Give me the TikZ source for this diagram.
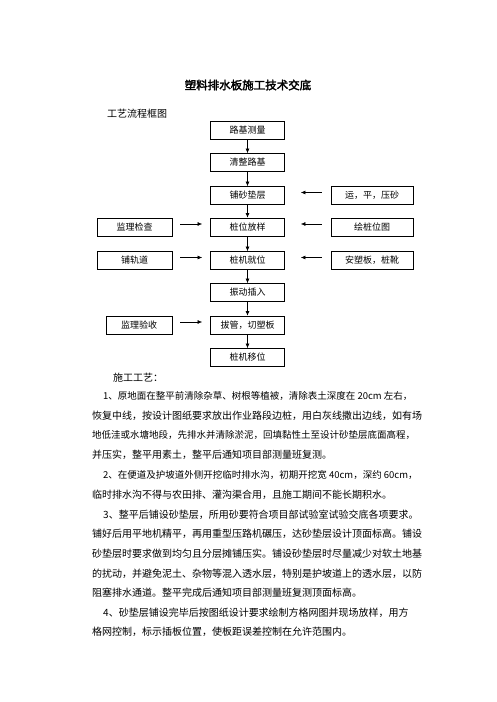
\documentclass[tikz,border=0pt]{standalone}
\usepackage{fontspec}
\setmainfont{Noto Sans CJK SC}[AutoFakeBold=2.5]
\usetikzlibrary{arrows.meta}
\XeTeXlinebreaklocale "zh"
\XeTeXlinebreakskip=0pt plus 10pt minus 0.5pt
\def\midx{247.5}
\colorlet{box edge}{black}
\tikzset{stepbox/.style={draw=box edge, line width=0.7pt, minimum width=74pt,
          minimum height=18pt, inner sep=0pt, font=\fontsize{9}{9}\selectfont},
      sidebox/.style={stepbox, minimum width=82pt},
      flow/.style={-{Latex[length=4.5pt,width=4pt]}, line width=0.6pt},
      bodyline/.style={anchor=west, inner sep=0pt, font=\fontsize{10}{10}\selectfont},
      fullline/.style={bodyline, text width=331pt, align=justify},
      firstline/.style={bodyline, text width=320pt, align=justify},
      tight/.style={font=\fontsize{9.5}{10}\selectfont}}
\newcommand\filled[1]{\tolerance=10000 \pretolerance=10000 \parfillskip=0pt #1}

\begin{document}
\begin{tikzpicture}[x=1pt,y=-1pt]
\useasboundingbox (0,0) rectangle (496,702);
\node[font=\fontsize{11.5}{11.5}\selectfont\bfseries] (title) at (248,85) {塑料排水板施工技术交底};
\node[bodyline] (chart) at (107,114) {工艺流程框图};

\node[stepbox] (survey) at (\midx,130.5) {路基测量};
\node[stepbox] (clear)  at (\midx,162.5) {清整路基};
\node[stepbox] (sand)   at (\midx,195.5) {铺砂垫层};
\node[stepbox] (stake)  at (\midx,227)   {桩位放样};
\node[stepbox] (rig)    at (\midx,260.5) {桩机就位};
\node[stepbox] (drive)  at (\midx,292.5) {振动插入};
\node[stepbox] (pull)   at (\midx,325)   {拔管，切塑板};
\node[stepbox] (move)   at (\midx,357.5) {桩机移位};

\node[stepbox, minimum width=75pt] (check)  at (134.5,227)   {监理检查};
\node[stepbox, minimum width=75pt] (track)  at (134.5,260.5) {铺轨道};
\node[stepbox, minimum width=66pt] (accept) at (139,325)     {监理验收};
\node[sidebox] (haul)  at (372,195.5) {运，平，压砂};
\node[sidebox] (plan)  at (372,227)   {绘桩位图};
\node[sidebox] (board) at (372,260.5) {安塑板，桩靴};

\foreach \a/\b in {survey/clear, clear/sand, sand/stake, stake/rig,
                   rig/drive, drive/pull, pull/move}
  \draw[flow] (\a) -- (\b);
\foreach \a/\b in {check/stake, track/rig, accept/pull}
  \draw[flow, shorten <=8pt, shorten >=8pt] ([yshift=3pt]\a.east) -- ([yshift=3pt]\b.west);
\foreach \a/\b in {haul/sand, plan/stake, board/rig}
  \draw[flow, shorten <=9pt, shorten >=16pt] ([yshift=3pt]\a.west) -- ([yshift=3pt]\b.east);

\node[bodyline] (l0)  at (113,378) {施工工艺：};
\node[firstline, tight] (l1) at (103,396) {\filled{1、原地面在整平前清除杂草、树根等植被，清除表土深度在 20cm 左右，}};
\node[fullline] (l2)  at (92,416)  {\filled{恢复中线，按设计图纸要求放出作业路段边桩，用白灰线撒出边线，如有场}};
\node[fullline, tight] (l3) at (92,435) {\filled{地低洼或水塘地段，先排水并清除淤泥，回填黏性土至设计砂垫层底面高程，}};
\node[bodyline] (l4)  at (92,455)  {并压实，整平用素土，整平后通知项目部测量班复测。};
\node[firstline, tight] (l5) at (103,475) {\filled{2、在便道及护坡道外侧开挖临时排水沟，初期开挖宽 40cm，深约 60cm，}};
\node[bodyline] (l6)  at (92,495)  {临时排水沟不得与农田排、灌沟渠合用，且施工期间不能长期积水。};
\node[firstline] (l7) at (103,515) {\filled{3、整平后铺设砂垫层，所用砂要符合项目部试验室试验交底各项要求。}};
\node[fullline] (l8)  at (92,534)  {\filled{铺好后用平地机精平，再用重型压路机碾压，达砂垫层设计顶面标高。铺设}};
\node[fullline] (l9)  at (92,554)  {\filled{砂垫层时要求做到均匀且分层摊铺压实。铺设砂垫层时尽量减少对软土地基}};
\node[fullline] (l10) at (92,574)  {\filled{的扰动，并避免泥土、杂物等混入透水层，特别是护坡道上的透水层，以防}};
\node[bodyline] (l11) at (92,593)  {阻塞排水通道。整平完成后通知项目部测量班复测顶面标高。};
\node[firstline] (l12) at (103,613) {\filled{4、砂垫层铺设完毕后按图纸设计要求绘制方格网图并现场放样，用方}};
\node[bodyline] (l13) at (92,632)  {格网控制，标示插板位置，使板距误差控制在允许范围内。};
\end{tikzpicture}
\end{document}
